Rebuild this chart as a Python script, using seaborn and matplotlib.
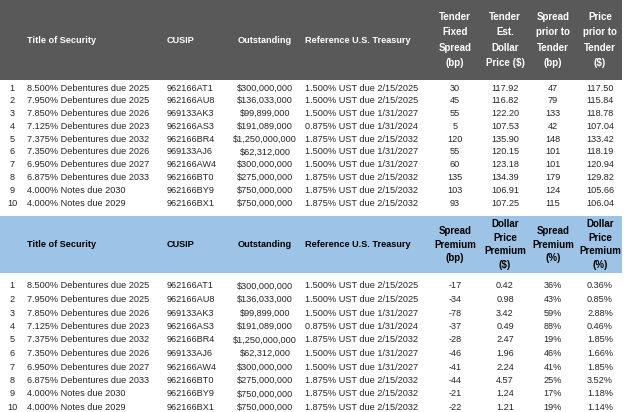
import matplotlib
matplotlib.use("Agg")
import matplotlib.pyplot as plt
import seaborn as sns

sns.set_style("white")
plt.rcParams['font.family'] = ['Liberation Sans', 'DejaVu Sans']

titles = ["8.500% Debentures due 2025", "7.950% Debentures due 2025", "7.850% Debentures due 2026",
          "7.125% Debentures due 2023", "7.375% Debentures due 2032", "7.350% Debentures due 2026",
          "6.950% Debentures due 2027", "6.875% Debentures due 2033", "4.000% Notes due 2030",
          "4.000% Notes due 2029"]
cusips = ["962166AT1", "962166AU8", "969133AK3", "962166AS3", "962166BR4", "969133AJ6",
          "962166AW4", "962166BT0", "962166BY9", "962166BX1"]
outstanding = ["$300,000,000", "$136,033,000", "$99,899,000", "$191,089,000", "$1,250,000,000",
               "$62,312,000", "$300,000,000", "$275,000,000", "$750,000,000", "$750,000,000"]
treasuries = ["1.500% UST due 2/15/2025", "1.500% UST due 2/15/2025", "1.500% UST due 1/31/2027",
              "0.875% UST due 1/31/2024", "1.875% UST due 2/15/2032", "1.500% UST due 1/31/2027",
              "1.500% UST due 1/31/2027", "1.875% UST due 2/15/2032", "1.875% UST due 2/15/2032",
              "1.875% UST due 2/15/2032"]
tender_spread = ["30", "45", "55", "5", "120", "55", "60", "135", "103", "93"]
tender_price = ["117.92", "116.82", "122.20", "107.53", "135.90", "120.15", "123.18", "134.39", "106.91", "107.25"]
prior_spread = ["47", "79", "133", "42", "148", "101", "101", "179", "124", "115"]
prior_price = ["117.50", "115.84", "118.78", "107.04", "133.42", "118.19", "120.94", "129.82", "105.66", "106.04"]
spread_prem_bp = ["-17", "-34", "-78", "-37", "-28", "-46", "-41", "-44", "-21", "-22"]
price_prem_usd = ["0.42", "0.98", "3.42", "0.49", "2.47", "1.96", "2.24", "4.57", "1.24", "1.21"]
spread_prem_pct = ["36%", "43%", "59%", "88%", "19%", "46%", "41%", "25%", "17%", "19%"]
price_prem_pct = ["0.36%", "0.85%", "2.88%", "0.46%", "1.85%", "1.66%", "1.85%", "3.52%", "1.18%", "1.14%"]

top_headers = ["Tender\nFixed\nSpread\n(bp)", "Tender\nEst.\nDollar\nPrice ($)",
               "Spread\nprior to\nTender\n(bp)", "Price\nprior to\nTender\n($)"]
bot_headers = ["Spread\nPremium\n(bp)", "Dollar\nPrice\nPremium\n($)",
               "Spread\nPremium\n(%)", "Dollar\nPrice\nPremium\n(%)"]

fig = plt.figure(figsize=(6.24, 4.12), dpi=100)
ax = fig.add_axes([0, 0, 1, 1])
ax.set_xlim(0, 624)
ax.set_ylim(412, 0)
ax.axis("off")

fs = 6.6
num_x = [455, 505, 553, 600]


def draw_table(y0, y1, row0, step, color, txtcolor, headers, cols, ls):
    ax.add_patch(plt.Rectangle((0, y0), 622, y1 - y0, color=color, lw=0))
    hy = (y0 + y1) / 2
    for x, h in [(27, "Title of Security"), (167, "CUSIP"), (305, "Reference U.S. Treasury")]:
        ax.text(x, hy, h, fontsize=fs, fontweight="bold", color=txtcolor, ha="left", va="center")
    ax.text(265, hy, "Outstanding", fontsize=fs, fontweight="bold", color=txtcolor, ha="center", va="center")
    for x, h in zip(num_x, headers):
        ax.text(x, hy, h, fontsize=fs + 0.4, fontweight="bold", color=txtcolor, ha="center", va="center",
                linespacing=ls)
    for i in range(10):
        y = row0 + i * step
        ax.text(12, y, str(i + 1), fontsize=fs, ha="center", va="center")
        ax.text(27, y, titles[i], fontsize=fs, ha="left", va="center")
        ax.text(167, y, cusips[i], fontsize=fs, ha="left", va="center")
        ax.text(265, y, outstanding[i], fontsize=fs, ha="center", va="center")
        ax.text(305, y, treasuries[i], fontsize=fs, ha="left", va="center")
        for x, col in zip(num_x, cols):
            ax.text(x, y, col[i], fontsize=fs, ha="center", va="center")


draw_table(0, 80, 88, 12.8, "#595959", "white", top_headers,
           [tender_spread, tender_price, prior_spread, prior_price], 1.65)
draw_table(216, 273, 286, 13.5, "#9dc3e6", "black", bot_headers,
           [spread_prem_bp, price_prem_usd, spread_prem_pct, price_prem_pct], 1.45)

fig.savefig("out.png", dpi=100)
